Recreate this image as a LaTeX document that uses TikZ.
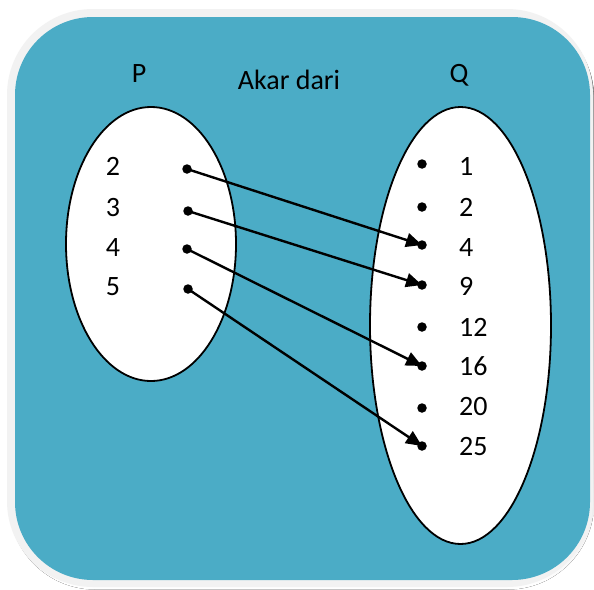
\documentclass[tikz,border=0pt]{standalone}
\usepackage{fontspec}
\setmainfont{Carlito}
\usetikzlibrary{arrows.meta}
\definecolor{teal1}{HTML}{4BACC6}
\definecolor{rim}{HTML}{F2F2F2}
\definecolor{shade}{HTML}{A9BFC6}
\tikzset{
  lbl/.style={font=\fontsize{28}{33}\selectfont, inner sep=0pt, text=black},
  pt/.style={circle, fill=black, inner sep=0pt, minimum size=9.5pt},
  setell/.style={draw=black, line width=1.8pt, fill=white},
  arr/.style={line width=2.4pt, -{Triangle[length=16pt,width=14pt]}},
}
\begin{document}
\begin{tikzpicture}[x=1pt,y=-1pt]
\useasboundingbox (0,0) rectangle (594,589);
\fill[white] (0,0) rectangle (594,589);
% frame
\fill[shade, rounded corners=86pt] (9,12) rectangle (594,589.5);
\fill[rim, rounded corners=86pt] (7,9) rectangle (593,587);
\fill[teal1, rounded corners=78pt] (15,17) rectangle (590,580);
% sets
\draw[setell] (151,244) ellipse [x radius=85pt, y radius=137pt];
\draw[setell] (460.5,325.5) ellipse [x radius=90.5pt, y radius=218.5pt];
% titles
\node[lbl, anchor=base] (tp) at (139,82) {P};
\node[lbl, anchor=base] (tak) at (289,89) {Akar dari};
\node[lbl, anchor=base] (tq) at (459,82) {Q};
% P elements
\node[lbl, anchor=base] (p2) at (113,175) {2};
\node[lbl, anchor=base] (p3) at (113,216) {3};
\node[lbl, anchor=base] (p4) at (113,256) {4};
\node[lbl, anchor=base] (p5) at (113,295) {5};
\node[pt] (l2) at (187,169) {};
\node[pt] (l3) at (188,211) {};
\node[pt] (l4) at (187,249) {};
\node[pt] (l5) at (188,289) {};
% Q elements
\node[pt] (r1) at (422,164) {};
\node[pt] (r2) at (422,207) {};
\node[pt] (r4) at (422,245) {};
\node[pt] (r9) at (422,285) {};
\node[pt] (r12) at (422,327) {};
\node[pt] (r16) at (422,366) {};
\node[pt] (r20) at (422,408) {};
\node[pt] (r25) at (422,446) {};
\node[lbl, anchor=base west] (q1) at (459,175) {1};
\node[lbl, anchor=base west] (q2) at (459,216) {2};
\node[lbl, anchor=base west] (q4) at (459,256) {4};
\node[lbl, anchor=base west] (q9) at (459,295) {9};
\node[lbl, anchor=base west] (q12) at (459,336) {12};
\node[lbl, anchor=base west] (q16) at (459,375) {16};
\node[lbl, anchor=base west] (q20) at (459,415) {20};
\node[lbl, anchor=base west] (q25) at (459,455) {25};
% mapping
\draw[arr] (l2.center) -- (r4.center);
\draw[arr] (l3.center) -- (r9.center);
\draw[arr] (l4.center) -- (r16.center);
\draw[arr] (l5.center) -- (r25.center);
\end{tikzpicture}
\end{document}
